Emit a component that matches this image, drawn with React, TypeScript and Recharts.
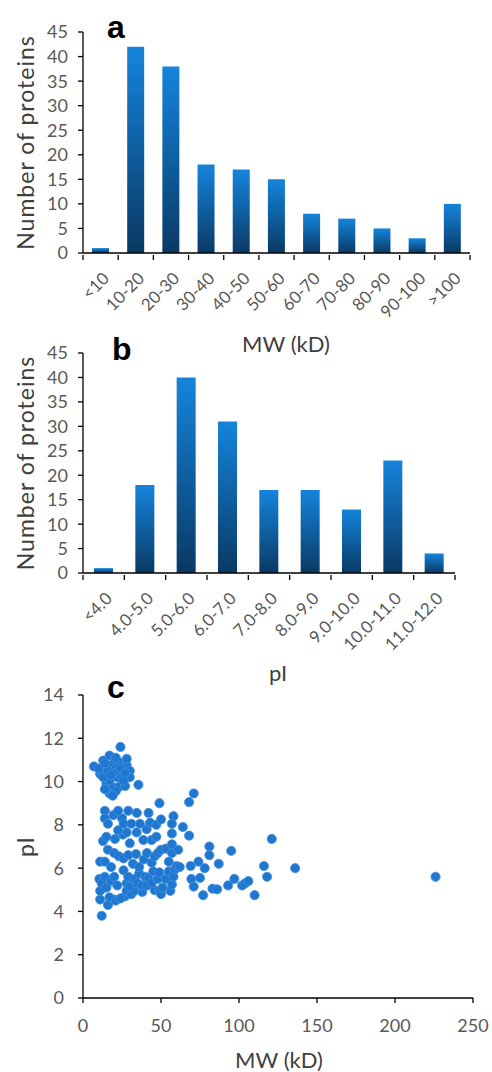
import React from 'react';
import { BarChart, Bar, XAxis, YAxis, ScatterChart, Scatter } from 'recharts';

// histogram a: molecular weight bins
const mwBins = ['<10', '10-20', '20-30', '30-40', '40-50', '50-60', '60-70', '70-80', '80-90', '90-100', '>100'];
const mwCounts = [1, 42, 38, 18, 17, 15, 8, 7, 5, 3, 10];

// histogram b: pI bins
const piBins = ['<4.0', '4.0-5.0', '5.0-6.0', '6.0-7.0', '7.0-8.0', '8.0-9.0', '9.0-10.0', '10.0-11.0', '11.0-12.0'];
const piCounts = [1, 18, 40, 31, 17, 17, 13, 23, 4];

const countTicks = [0, 5, 10, 15, 20, 25, 30, 35, 40, 45];
const mwTicks = [0, 50, 100, 150, 200, 250];
const piTicks = [0, 2, 4, 6, 8, 10, 12, 14];

// scatter c: [MW (kD), pI]
const proteins: [number, number][] = [
  [12, 3.8],
  [16, 4.3], [20, 4.55], [17, 4.65], [21, 4.5], [27, 4.7], [28, 4.95], [11, 4.55], [11, 4.95], [31, 4.8],
  [46, 4.98], [49, 4.95], [50, 4.8], [56, 4.95], [77, 4.75], [110, 4.75], [33, 4.95], [38, 4.9], [24, 4.6],
  [10.5, 5.5], [12, 5.3], [14, 5.6], [15, 5.1], [18, 5.4], [20, 5.6], [22, 5.2], [26, 5.9], [28, 5.3], [29, 5.6],
  [30, 5.15], [33, 5.5], [35, 5.3], [36, 5.75], [38, 5.2], [40, 5.6], [41, 5.2], [42, 5.55], [44, 5.3], [45, 5.85],
  [48, 5.5], [49, 5.8], [51, 5.1], [53, 5.5], [55, 5.85], [57, 5.25], [58, 5.6], [59, 5.95], [69.5, 5.5], [71, 5.15],
  [75, 5.55], [83, 5.05], [86, 5.02], [93, 5.2], [97, 5.5], [102, 5.2], [104, 5.3], [106, 5.4], [118, 5.6], [226, 5.6],
  [11, 6.3], [14, 6.3], [16, 6.85], [20, 6.7], [23, 6.55], [26, 6.45], [29, 6.6], [32, 6.2], [34, 6.65], [36, 6.05],
  [39, 6.4], [41, 6.7], [44, 6.25], [46, 6.55], [48, 6.7], [50, 6.85], [53, 6.9], [55, 6.3], [57, 6.7], [60, 6.1],
  [61, 6.85], [62, 6.05], [69, 6.1], [74, 6.3], [78, 6.0], [81, 6.6], [87, 6.2], [95, 6.8], [116, 6.1], [136, 6.0],
  [18, 6.05], [81, 7.0],
  [12.8, 7.25], [15, 7.45], [20.5, 7.35], [25.6, 7.55], [28, 7.65], [22.5, 7.75], [34.4, 7.65], [30, 7.15], [38.7, 7.3],
  [40.8, 7.8], [44, 7.3], [47, 7.45], [57, 7.1], [57, 7.6], [64, 7.9], [68, 7.5], [121, 7.35],
  [14, 8.65], [14, 8.3], [19.5, 8.45], [22.5, 8.65], [25, 8.3], [29, 8.65], [34.5, 8.55], [42, 8.55], [16, 8.05],
  [26, 8.05], [31, 8.05], [36.5, 8.05], [43, 8.1], [47, 8.0], [58, 8.4], [57, 8.05], [50, 8.25],
  [49, 9.0], [71, 9.45], [68, 9.05], [35.5, 9.85], [15, 9.9], [19, 9.75], [25, 9.97], [17, 9.45], [23, 9.75],
  [21, 9.55], [27, 9.8], [14, 9.65], [19, 9.35],
  [7, 10.7], [11, 10.35], [12, 10.5], [13, 10.97], [15, 10.7], [19, 10.8], [28, 10.75], [30, 10.5], [25, 10.35],
  [22, 10.2], [17, 10.05], [13, 10.2], [30, 10.2], [26, 10.05], [21, 10.6], [23, 10.9], [20, 10.4], [16, 10.5],
  [14, 10.85], [18, 10.3], [24, 10.6], [27, 10.4], [10, 10.6],
  [24, 11.6], [17, 11.2], [28, 11.05], [21, 11.1],
];

const mwData = mwBins.map((bin, i) => ({ bin, count: mwCounts[i] }));
const piData = piBins.map((bin, i) => ({ bin, count: piCounts[i] }));
const scatterData = proteins.map(([mw, pi]) => ({ mw, pi }));

const FONT = 'Lato, sans-serif';
const TICK = '#595959';
const TITLE = '#404040';
const AXIS = { stroke: '#000', strokeWidth: 1.3 };
const PLOT_LEFT = 83;
const TITLE_X = 25;

// rotated category label, plus a tick mark on the left edge of each band
const BinTick = ({ x, y, payload, index, bandWidth, count }: any) => {
  const left = x - bandWidth / 2;
  const right = x + bandWidth / 2;
  const ax = x + 5;
  const ay = y + 20;
  return (
    <g>
      <line x1={left} y1={y} x2={left} y2={y + 5} stroke="#000" strokeWidth={1.3} />
      {index === count - 1 && <line x1={right} y1={y} x2={right} y2={y + 5} stroke="#000" strokeWidth={1.3} />}
      <text
        x={ax}
        y={ay}
        transform={`rotate(-45, ${ax}, ${ay})`}
        textAnchor="end"
        dominantBaseline="central"
        fill={TICK}
        fontSize={17}
        fontFamily={FONT}
      >
        {payload.value}
      </text>
    </g>
  );
};

const YTitle = ({ viewBox, text }: any) => {
  const cy = viewBox.y + viewBox.height / 2;
  return (
    <text x={TITLE_X} y={cy} transform={`rotate(-90, ${TITLE_X}, ${cy})`} textAnchor="middle" dominantBaseline="central"
      fill={TITLE} fontSize={23} letterSpacing={1} fontFamily={FONT}>
      {text}
    </text>
  );
};

const XTitle = ({ viewBox, text, cx, dy, size = 22 }: any) => (
  <text x={cx} y={viewBox.y + dy} textAnchor="middle" dominantBaseline="central"
    fill={TITLE} fontSize={size} fontFamily={FONT}>
    {text}
  </text>
);

const PanelLetter = ({ letter, left, top }: any) => (
  <div style={{ position: 'absolute', left, top, fontFamily: 'Liberation Sans, Arial, sans-serif', fontWeight: 'bold', fontSize: 32, lineHeight: '32px', color: '#000' }}>
    {letter}
  </div>
);

const Histogram = ({ data, id, top, height, plotTop, plotBottom, plotRight, barSize, titleText, titleX, titleDy }: any) => {
  const bandWidth = (plotRight - PLOT_LEFT) / data.length;
  return (
    <div style={{ position: 'absolute', left: 0, top }}>
      <BarChart width={492} height={height} data={data} margin={{ top: plotTop, right: 492 - plotRight, left: 0, bottom: 0 }}>
        <defs>
          <linearGradient id={id} x1="0" y1="0" x2="0" y2="1">
            <stop offset="0%" stopColor="#1684DB" />
            <stop offset="45%" stopColor="#0F63A8" />
            <stop offset="100%" stopColor="#0A3963" />
          </linearGradient>
        </defs>
        <XAxis
          dataKey="bin"
          height={plotBottom}
          axisLine={AXIS}
          tickLine={false}
          tickSize={0}
          interval={0}
          tick={<BinTick bandWidth={bandWidth} count={data.length} />}
          label={<XTitle text={titleText} cx={titleX} dy={titleDy} />}
        />
        <YAxis
          width={PLOT_LEFT}
          domain={[0, 45]}
          ticks={countTicks}
          interval={0}
          axisLine={AXIS}
          tickLine={{ stroke: '#000', strokeWidth: 1.3 }}
          tickSize={5}
          tickMargin={10}
          tick={{ fill: TICK, fontSize: 18, fontFamily: FONT }}
          label={<YTitle text="Number of proteins" />}
        />
        <Bar dataKey="count" fill={`url(#${id})`} barSize={barSize} isAnimationActive={false} />
      </BarChart>
    </div>
  );
};

const Dot = (props: any) => (
  <circle cx={props.cx} cy={props.cy} r={4.6} fill="#1F77D0" stroke="#4391DD" strokeWidth={0.8} />
);

export default function App() {
  return (
    <div style={{ position: 'absolute', left: 0, top: 0, width: 492, height: 1072, background: '#fff', overflow: 'hidden' }}>
      <Histogram data={mwData} id="gradA" top={0} height={360} plotTop={32} plotBottom={360 - 253}
        plotRight={470} barSize={17} titleText="MW (kD)" titleX={286} titleDy={90} />
      <Histogram data={piData} id="gradB" top={300} height={390} plotTop={53} plotBottom={390 - 273}
        plotRight={455} barSize={19} titleText="pI" titleX={278} titleDy={99} />

      <div style={{ position: 'absolute', left: 0, top: 680 }}>
        <ScatterChart width={492} height={392} margin={{ top: 15, right: 19, left: 0, bottom: 0 }}>
          <XAxis
            type="number"
            dataKey="mw"
            domain={[0, 250]}
            ticks={mwTicks}
            interval={0}
            height={392 - 15 - 303}
            axisLine={AXIS}
            tickLine={{ stroke: '#000', strokeWidth: 1.3 }}
            tickSize={5}
            tickMargin={16}
            tick={{ fill: TICK, fontSize: 18, fontFamily: FONT }}
            label={<XTitle text="MW (kD)" cx={279} dy={61} size={22} />}
          />
          <YAxis
            type="number"
            dataKey="pi"
            domain={[0, 14]}
            ticks={piTicks}
            interval={0}
            width={PLOT_LEFT}
            axisLine={AXIS}
            tickLine={{ stroke: '#000', strokeWidth: 1.3 }}
            tickSize={5}
            tickMargin={14}
            tick={{ fill: TICK, fontSize: 18, fontFamily: FONT }}
            label={<YTitle text="pI" />}
          />
          <Scatter data={scatterData} shape={<Dot />} isAnimationActive={false} />
        </ScatterChart>
      </div>

      <PanelLetter letter="a" left={107} top={11} />
      <PanelLetter letter="b" left={112} top={333} />
      <PanelLetter letter="c" left={107} top={671} />
    </div>
  );
}
